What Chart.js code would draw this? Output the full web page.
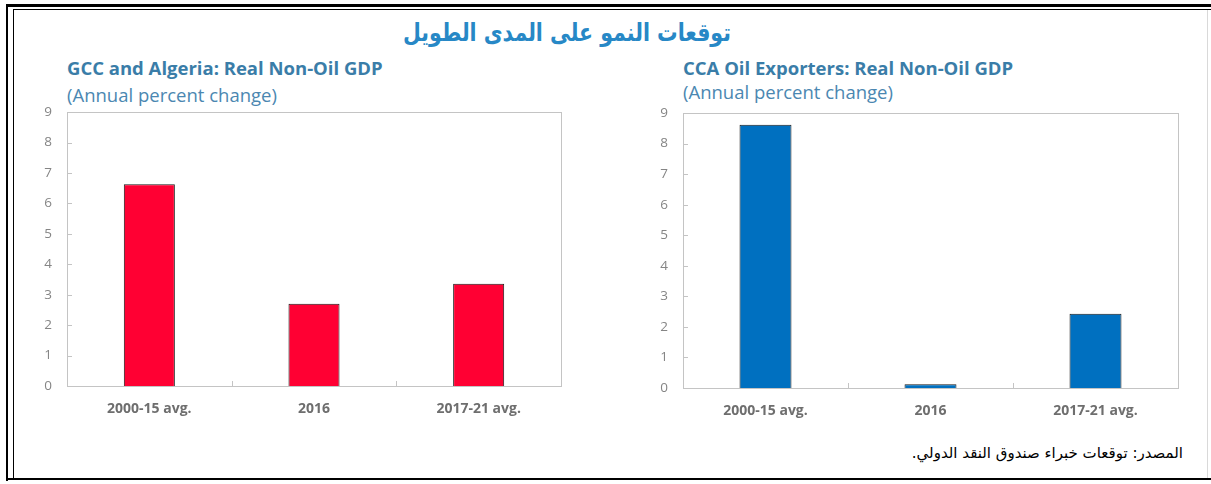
<!DOCTYPE html>
<html>
<head>
<meta charset="utf-8">
<script src="https://cdn.jsdelivr.net/npm/chart.js@4.4.1/dist/chart.umd.min.js"></script>
<style>
  html, body { margin: 0; padding: 0; background: #fff; }
  #page { position: relative; width: 1211px; height: 484px; overflow: hidden; background: #fff; }
  .ln { position: absolute; background: #000; }
  .txt { position: absolute; white-space: nowrap; }
  #mainTitle { left: 0; width: 1134px; top: 18px; text-align: center; font-family: "DejaVu Sans", sans-serif; font-weight: bold; font-size: 25px; color: #2788c6; direction: rtl; transform: scaleX(0.82); transform-origin: 567px 0; }
  .ct { font-family: "Open Sans", sans-serif; font-weight: bold; font-size: 18.5px; color: #3a7da8; }
  .cs { font-family: "Open Sans", sans-serif; font-size: 18.5px; color: #4b87b1; }
  #src { right: 28px; top: 444px; font-family: "DejaVu Sans", sans-serif; font-size: 15px; color: #000; direction: rtl; }
  canvas { position: absolute; }
</style>
</head>
<body>
<div id="page">
  <div class="ln" style="left:7px; top:4px; width:1204px; height:3px;"></div>
  <div class="ln" style="left:13px; top:9px; width:1198px; height:1px;"></div>
  <div class="ln" style="left:6px; top:4px; width:2px; height:477px;"></div>
  <div class="ln" style="left:13px; top:9px; width:1px; height:470px;"></div>
  <div class="ln" style="left:6px; top:478px; width:1205px; height:2px;"></div>
  <div class="ln" style="left:1207px; top:10px; width:1px; height:468px; background:#d9d9d9;"></div>

  <div id="mainTitle" class="txt">توقعات النمو على المدى الطويل</div>
  <div class="txt ct" style="left:67px; top:55px;">GCC and Algeria: Real Non-Oil GDP</div>
  <div class="txt cs" style="left:67px; top:82px;">(Annual percent change)</div>
  <div class="txt ct" style="left:683px; top:55px;">CCA Oil Exporters: Real Non-Oil GDP</div>
  <div class="txt cs" style="left:683px; top:79px;">(Annual percent change)</div>
  <div id="src" class="txt">المصدر: توقعات خبراء صندوق النقد الدولي.</div>

  <canvas id="c1" width="560" height="341" style="left:20px; top:89px;"></canvas>
  <canvas id="c2" width="560" height="341" style="left:636px; top:90px;"></canvas>
</div>
<script>
const categories = ["2000-15 avg.", "2016", "2017-21 avg."];
const gccValues = [6.63, 2.7, 3.36];
const ccaValues = [8.62, 0.12, 2.43];
const yTicks = [0, 1, 2, 3, 4, 5, 6, 7, 8, 9];

const framePlugin = {
  id: 'frame',
  afterDatasetsDraw(chart) {
    const ctx = chart.ctx;
    const a = chart.chartArea;
    const x = chart.scales.x, y = chart.scales.y;
    ctx.save();
    ctx.strokeStyle = '#c4c4c4';
    ctx.lineWidth = 1;
    ctx.strokeRect(Math.round(a.left) + 0.5, Math.round(a.top) + 0.5, Math.round(a.right - a.left), Math.round(a.bottom - a.top));
    ctx.beginPath();
    yTicks.forEach(v => {
      if (v === 0 || v === 9) return;
      const py = Math.round(y.getPixelForValue(v)) + 0.5;
      ctx.moveTo(a.left, py);
      ctx.lineTo(a.left + 5, py);
    });
    for (let i = 0; i < categories.length - 1; i++) {
      const px = Math.round((x.getPixelForValue(i) + x.getPixelForValue(i + 1)) / 2) + 0.5;
      ctx.moveTo(px, a.bottom);
      ctx.lineTo(px, a.bottom - 5);
    }
    ctx.stroke();
    ctx.restore();
  }
};

function makeChart(id, values, color, rightPad, xHeight, barPct) {
  return new Chart(document.getElementById(id), {
    type: 'bar',
    data: {
      labels: categories,
      datasets: [{
        data: values,
        backgroundColor: color,
        borderColor: '#1a1a1a',
        borderWidth: 1,
        barPercentage: barPct,
        categoryPercentage: 1
      }]
    },
    options: {
      responsive: false,
      animation: false,
      events: [],
      layout: { padding: { top: 0, right: rightPad, left: 0, bottom: 0 } },
      plugins: { legend: { display: false }, tooltip: { enabled: false }, title: { display: false } },
      scales: {
        x: {
          grid: { display: false, drawTicks: false },
          border: { display: false },
          ticks: { color: '#6e6e6e', padding: 15, font: { family: 'Open Sans', size: 14, weight: 'bold' } },
          afterFit(s) { s.height = xHeight; }
        },
        y: {
          min: 0, max: 9,
          afterBuildTicks(s) { s.ticks = yTicks.map(v => ({ value: v })); },
          grid: { display: false, drawTicks: false },
          border: { display: false },
          ticks: { color: '#858585', padding: 15, font: { family: 'Open Sans', size: 13.5 } },
          afterFit(s) { s.width = 47; }
        }
      }
    },
    plugins: [framePlugin]
  });
}

makeChart('c1', gccValues, '#ff0033', 19, 44, 0.31);
makeChart('c2', ccaValues, '#0070c0', 18, 43, 0.315);
</script>
</body>
</html>
